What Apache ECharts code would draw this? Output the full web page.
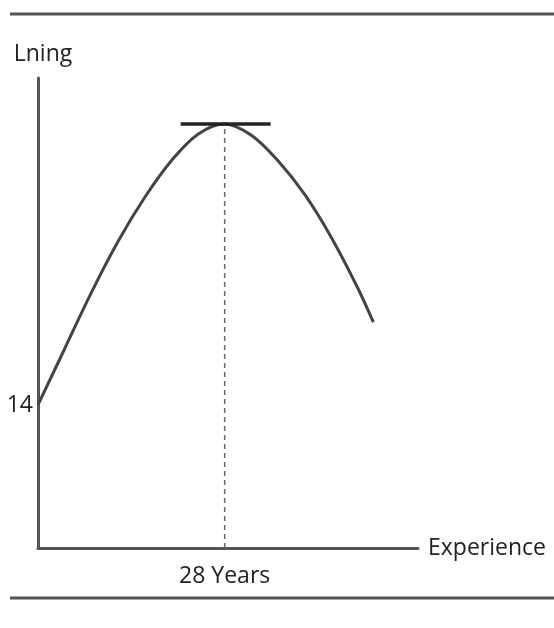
<!DOCTYPE html>
<html>
<head>
<meta charset="utf-8">
<script src="https://cdn.jsdelivr.net/npm/echarts@6/dist/echarts.min.js"></script>
<style>
  html, body { margin: 0; padding: 0; background: #fff; }
  #chart { width: 554px; height: 628px; }
</style>
</head>
<body>
<div id="chart"></div>
<script>
// curve (years, learning)
const years = [0, 4, 8, 12, 16, 20, 24, 28, 32, 36, 40, 44, 48, 50.3];
const learning = [14, 19.5, 25, 30, 34.3, 37.9, 40.5, 41.5, 40.4, 37.9, 34.6, 30.4, 25.4, 22.1];
const peakYear = 28;
const peakValue = 41.5;
const tangentFrom = 21.4;
const tangentTo = 34.9;
const startValue = 14;

const font = '"Open Sans", "DejaVu Sans", sans-serif';
let chart = echarts.init(document.getElementById('chart'));

let option = {
    animation: false,
    backgroundColor: '#fff',
    grid: { left: 38, right: 136, top: 78, bottom: 80 },
    xAxis: {
        type: 'value',
        min: 0,
        max: 57,
        interval: 28,
        name: 'Experience',
        nameLocation: 'end',
        nameGap: 10,
        nameTextStyle: { color: '#222', fontSize: 23, fontFamily: font },
        axisLine: { lineStyle: { color: '#555', width: 3 } },
        axisTick: { show: false },
        splitLine: { show: false },
        axisLabel: {
            margin: 17,
            color: '#222', fontSize: 23, fontFamily: font,
            showMaxLabel: false,
            formatter: v => v === peakYear ? peakYear + ' Years' : ''
        }
    },
    yAxis: {
        type: 'value',
        min: 0,
        max: 46,
        interval: 14,
        name: 'Lning',
        nameLocation: 'end',
        nameGap: 12,
        nameTextStyle: { color: '#222', fontSize: 23, fontFamily: font, align: 'center', padding: [0, 0, 0, 10] },
        axisLine: { show: true, lineStyle: { color: '#555', width: 3 } },
        axisTick: { show: false },
        splitLine: { show: false },
        axisLabel: {
            margin: 5,
            color: '#222', fontSize: 23, fontFamily: font,
            formatter: v => v === startValue ? String(startValue) : ''
        }
    },
    series: [
        {
            type: 'line',
            data: [[peakYear, 0], [peakYear, peakValue]],
            symbol: 'none',
            lineStyle: { color: '#666', width: 1.5, type: [5, 4] },
            z: 1
        },
        {
            type: 'line',
            data: years.map((x, i) => [x, learning[i]]),
            smooth: 0.35,
            symbol: 'none',
            lineStyle: { color: '#444', width: 3 },
            z: 2
        },
        {
            type: 'line',
            data: [[tangentFrom, peakValue], [tangentTo, peakValue]],
            symbol: 'none',
            lineStyle: { color: '#222', width: 3.5 },
            z: 3
        }
    ],
    graphic: [
        { type: 'line', shape: { x1: 10, y1: 14, x2: 554, y2: 14 }, style: { stroke: '#555', lineWidth: 3 } },
        { type: 'line', shape: { x1: 10, y1: 598, x2: 554, y2: 598 }, style: { stroke: '#555', lineWidth: 3 } }
    ]
};
chart.setOption(option);
</script>
</body>
</html>
